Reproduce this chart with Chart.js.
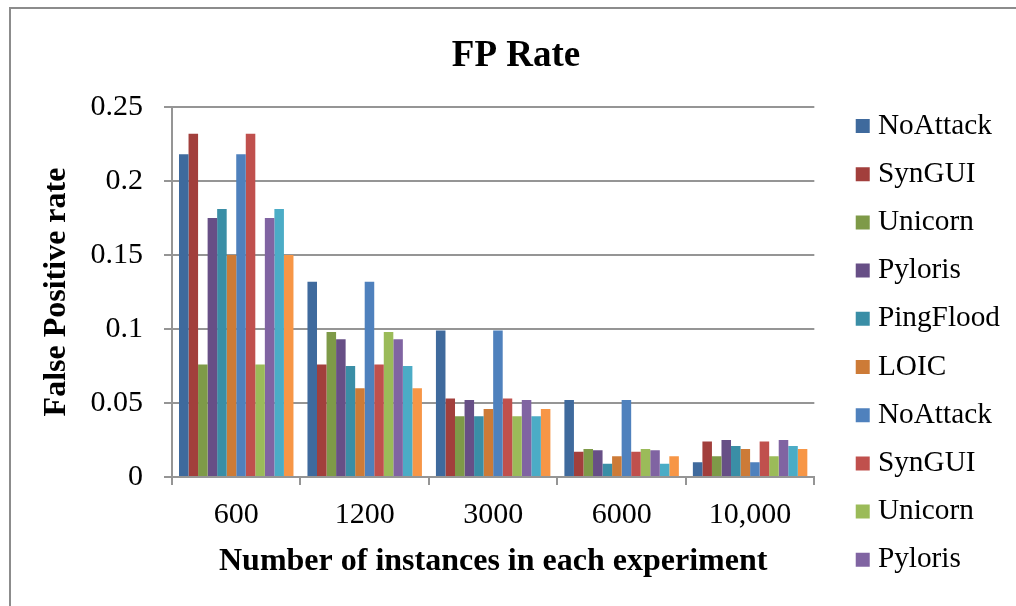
<!DOCTYPE html>
<html><head><meta charset="utf-8">
<script src="https://cdn.jsdelivr.net/npm/chart.js@4.4.0/dist/chart.umd.min.js"></script>
<style>
html,body{margin:0;padding:0;background:#fff;overflow:hidden;width:1016px;height:606px;}
#frame{position:absolute;left:9px;top:7px;width:1100px;height:700px;border:2px solid #8c8c8c;box-sizing:border-box;}
#wrap{position:absolute;left:0;top:0;width:1016px;height:606px;}
</style></head><body>
<div id="frame"></div>
<div id="wrap"><canvas id="c" width="1016" height="606"></canvas></div>
<script>
const categories = ['600', '1200', '3000', '6000', '10,000'];
const seriesNames = ['NoAttack', 'SynGUI', 'Unicorn', 'Pyloris', 'PingFlood', 'LOIC',
                     'NoAttack', 'SynGUI', 'Unicorn', 'Pyloris', 'PingFlood', 'LOIC'];
const noAttack  = [0.218, 0.132, 0.099, 0.052, 0.010];
const synGUI    = [0.232, 0.076, 0.053, 0.017, 0.024];
const unicorn   = [0.076, 0.098, 0.041, 0.019, 0.014];
const pyloris   = [0.175, 0.093, 0.052, 0.018, 0.025];
const pingFlood = [0.181, 0.075, 0.041, 0.009, 0.021];
const loic      = [0.150, 0.060, 0.046, 0.014, 0.019];
const seriesValues = [noAttack, synGUI, unicorn, pyloris, pingFlood, loic,
                      noAttack, synGUI, unicorn, pyloris, pingFlood, loic];
const yTickLabels = ['0', '0.05', '0.1', '0.15', '0.2', '0.25'];
const seriesColors = ['#3F6A9D', '#A23F3C', '#7E9A48', '#674F86', '#3A8EA6', '#CD7B37',
                      '#4F81BD', '#C0504D', '#9BBB59', '#8064A2', '#4BACC6', '#F79646'];

const serif = "'Liberation Serif','Times New Roman',serif";
const gridColor = '#959595';

new Chart(document.getElementById('c'), {
  type: 'bar',
  data: {
    labels: categories,
    datasets: seriesNames.map((n, i) => ({
      label: n,
      data: seriesValues[i],
      backgroundColor: seriesColors[i],
      borderWidth: 0,
      categoryPercentage: 0.891,
      barPercentage: 1
    }))
  },
  options: {
    responsive: false,
    animation: false,
    devicePixelRatio: 1,
    layout: { padding: { left: 25, right: 9, top: 0, bottom: 5 } },
    plugins: {
      title: {
        display: true, text: 'FP Rate', color: '#000',
        font: { family: serif, size: 37, weight: 'bold' },
        padding: { top: 33.8, bottom: 28.8 }
      },
      legend: {
        position: 'right', align: 'start',
        title: { display: true, text: '', font: { size: 12 }, padding: { top: 78.05, bottom: 0 } },
        labels: {
          color: '#000', font: { family: serif, size: 29.3 }, padding: 18.9,
          boxWidth: 1, boxHeight: 14, usePointStyle: true, pointStyle: 'rect',
          filter: (item) => item.datasetIndex < 10
        }
      },
      tooltip: { enabled: false }
    },
    scales: {
      x: {
        grid: { display: true, drawOnChartArea: false, drawTicks: true, tickLength: 8, color: gridColor, lineWidth: 2, offset: true },
        border: { display: true, color: gridColor, width: 2 },
        ticks: { color: '#000', font: { family: serif, size: 30 }, padding: 12.4, maxRotation: 0, autoSkip: false },
        title: {
          display: true, text: 'Number of instances in each experiment', color: '#000',
          font: { family: serif, size: 32, weight: 'bold' }, padding: { top: 8.2, bottom: 19.8 }
        },
        afterFit: (s) => { s.height = 124; }
      },
      y: {
        min: 0, max: 0.25,
        ticks: { stepSize: 0.05, color: '#000', font: { family: serif, size: 30 }, padding: 21,
                 callback: (v, i) => yTickLabels[i] },
        grid: { color: gridColor, lineWidth: 2, tickLength: 8 },
        border: { display: true, color: gridColor, width: 2 },
        title: {
          display: true, text: 'False Positive rate', color: '#000',
          font: { family: serif, size: 32, weight: 'bold' }, padding: { top: 12.4, bottom: 0 }
        },
        afterFit: (s) => { s.width = 147; }
      },
      yr: {
        position: 'right', display: true, min: 0, max: 0.25,
        grid: { display: false }, border: { display: false }, ticks: { display: false },
        afterFit: (s) => { s.width = 29; }
      }
    }
  }
});
</script>
</body></html>
